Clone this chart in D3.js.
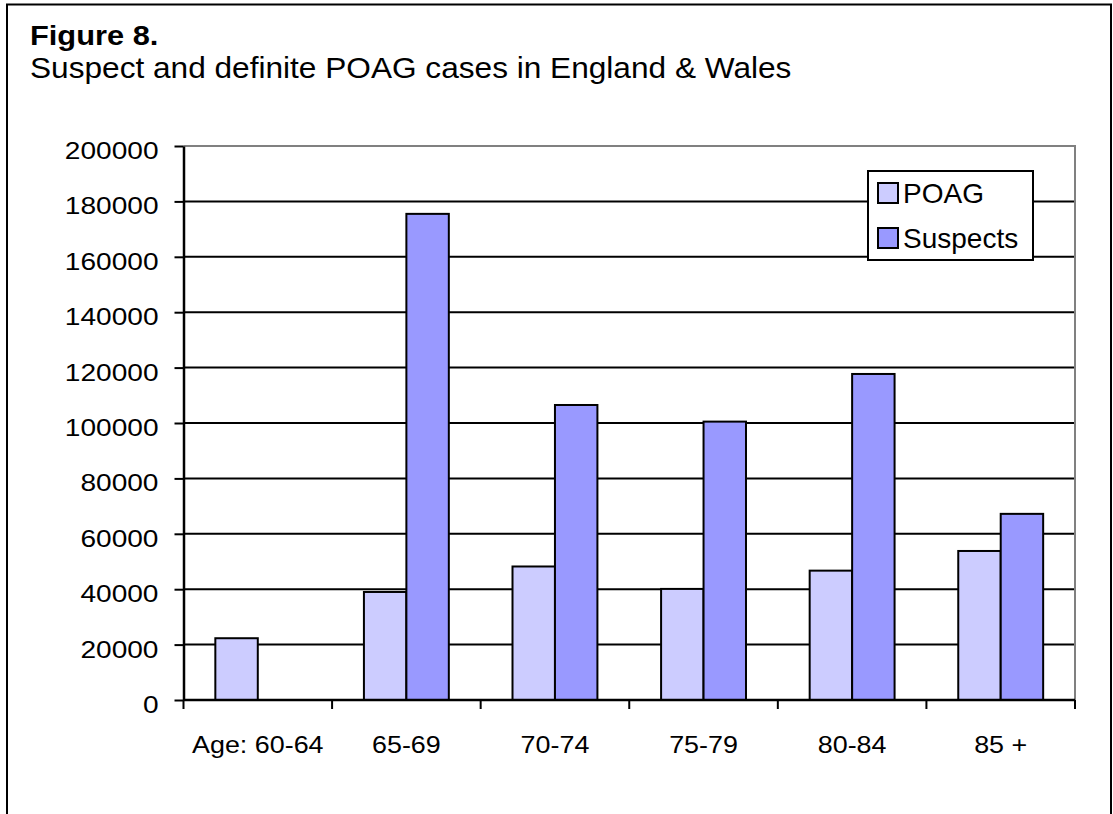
<!DOCTYPE html>
<html>
<head>
<meta charset="utf-8">
<script src="https://cdn.jsdelivr.net/npm/d3@7"></script>
<style>
  html, body { margin: 0; padding: 0; background: #fff; }
  svg { display: block; font-family: Arial, "Liberation Sans", sans-serif; }
</style>
</head>
<body>
<svg id="chart" width="1113" height="814"></svg>
<script>
// Age groups and case counts
const categories = ["Age: 60-64", "65-69", "70-74", "75-79", "80-84", "85 +"];
const poag      = [22300, 39000, 48200, 40100, 46700, 53800];
const suspects  = [0, 175500, 106500, 100500, 117700, 67200];
const yTicks    = [0, 20000, 40000, 60000, 80000, 100000, 120000, 140000, 160000, 180000, 200000];
const seriesNames = ["POAG", "Suspects"];
const seriesColors = ["#CCCCFF", "#9999FF"];

const svg = d3.select("#chart");
const W = 1113, H = 814;

// Outer frame (open at the bottom)
svg.append("path")
  .attr("d", `M7,${H} V4.5 H1111 V${H}`)
  .attr("fill", "none").attr("stroke", "#000").attr("stroke-width", 2);

// Stretch text horizontally by a factor (keeps the anchor point fixed)
function stretch(sel, k) {
  sel.each(function () {
    const len = this.getComputedTextLength();
    d3.select(this).attr("textLength", len * k).attr("lengthAdjust", "spacingAndGlyphs");
  });
}

// Titles
const t1 = svg.append("text").attr("x", 30).attr("y", 45)
  .attr("font-size", 28).attr("font-weight", "bold").text("Figure 8.");
const t2 = svg.append("text").attr("x", 30).attr("y", 78)
  .attr("font-size", 29).text("Suspect and definite POAG cases in England & Wales");
stretch(t1, 1.1);
stretch(t2, 1.09);

const plot = { left: 183.5, right: 1075, top: 146, bottom: 700 };

const x0 = d3.scaleBand().domain(categories).range([plot.left, plot.right]).paddingInner(0).paddingOuter(0);
// Two bars per group with a 150% gap width
const bw = x0.bandwidth() / 3.5;
const y = d3.scaleLinear().domain([0, 200000]).range([plot.bottom, plot.top]);

// Gridlines
svg.append("g").selectAll("line")
  .data(yTicks.filter(d => d > 0 && d < 200000))
  .join("line")
  .attr("x1", plot.left).attr("x2", plot.right)
  .attr("y1", d => y(d)).attr("y2", d => y(d))
  .attr("stroke", "#000").attr("stroke-width", 2);

// Plot area border (top and right)
svg.append("path")
  .attr("d", `M${plot.left},${plot.top} H${plot.right} V${plot.bottom}`)
  .attr("fill", "none").attr("stroke", "#808080").attr("stroke-width", 2);

// Bars
const groups = categories.map((c, i) => ({ c, vals: [poag[i], suspects[i]] }));
const g = svg.append("g").selectAll("g").data(groups).join("g");
g.selectAll("rect")
  .data(d => d.vals.map((v, s) => ({ c: d.c, v, s })).filter(d => d.v > 0))
  .join("rect")
  .attr("x", d => x0(d.c) + x0.bandwidth() / 2 - bw + d.s * bw)
  .attr("width", bw)
  .attr("y", d => y(d.v))
  .attr("height", d => y(0) - y(d.v))
  .attr("fill", d => seriesColors[d.s])
  .attr("stroke", "#000").attr("stroke-width", 2);

// Y axis
const yAxis = svg.append("g").attr("transform", `translate(${plot.left},0)`)
  .call(d3.axisLeft(y).tickValues(yTicks).tickFormat(d3.format("d")).tickSize(9).tickSizeOuter(0).tickPadding(16));
yAxis.select(".domain").attr("stroke", "#000").attr("stroke-width", 2.5);
yAxis.selectAll(".tick line").attr("stroke", "#000").attr("stroke-width", 2);
yAxis.selectAll(".tick text")
  .attr("font-size", 24).attr("font-family", "Arial, 'Liberation Sans', sans-serif")
  .attr("fill", "#000").attr("dy", "0.52em");
yAxis.selectAll(".tick text").call(stretch, 1.17);

// X axis
const xTicks = d3.range(categories.length + 1).map(i => plot.left + i * x0.bandwidth());
const xAxisG = svg.append("g");
xAxisG.append("line")
  .attr("x1", plot.left).attr("x2", plot.right)
  .attr("y1", plot.bottom).attr("y2", plot.bottom)
  .attr("stroke", "#000").attr("stroke-width", 2.5);
xAxisG.selectAll("line.tk").data(xTicks).join("line").attr("class", "tk")
  .attr("x1", d => d).attr("x2", d => d)
  .attr("y1", plot.bottom).attr("y2", plot.bottom + 9)
  .attr("stroke", "#000").attr("stroke-width", 2);
const xl = xAxisG.selectAll("text").data(categories).join("text")
  .attr("x", d => x0(d) + x0.bandwidth() / 2)
  .attr("y", 753)
  .attr("text-anchor", "middle")
  .attr("font-size", 24)
  .text(d => d);
stretch(xl, 1.12);

// Legend
const lg = svg.append("g").attr("transform", "translate(868,171)");
lg.append("rect").attr("width", 165).attr("height", 89)
  .attr("fill", "#fff").attr("stroke", "#000").attr("stroke-width", 2);
seriesNames.forEach((name, i) => {
  const row = lg.append("g").attr("transform", `translate(0,${i * 45})`);
  row.append("rect").attr("x", 10).attr("y", 12).attr("width", 20).attr("height", 20)
    .attr("fill", seriesColors[i]).attr("stroke", "#000").attr("stroke-width", 2);
  row.append("text").attr("x", 35).attr("y", 32).attr("font-size", 28).text(name);
});
</script>
</body>
</html>
